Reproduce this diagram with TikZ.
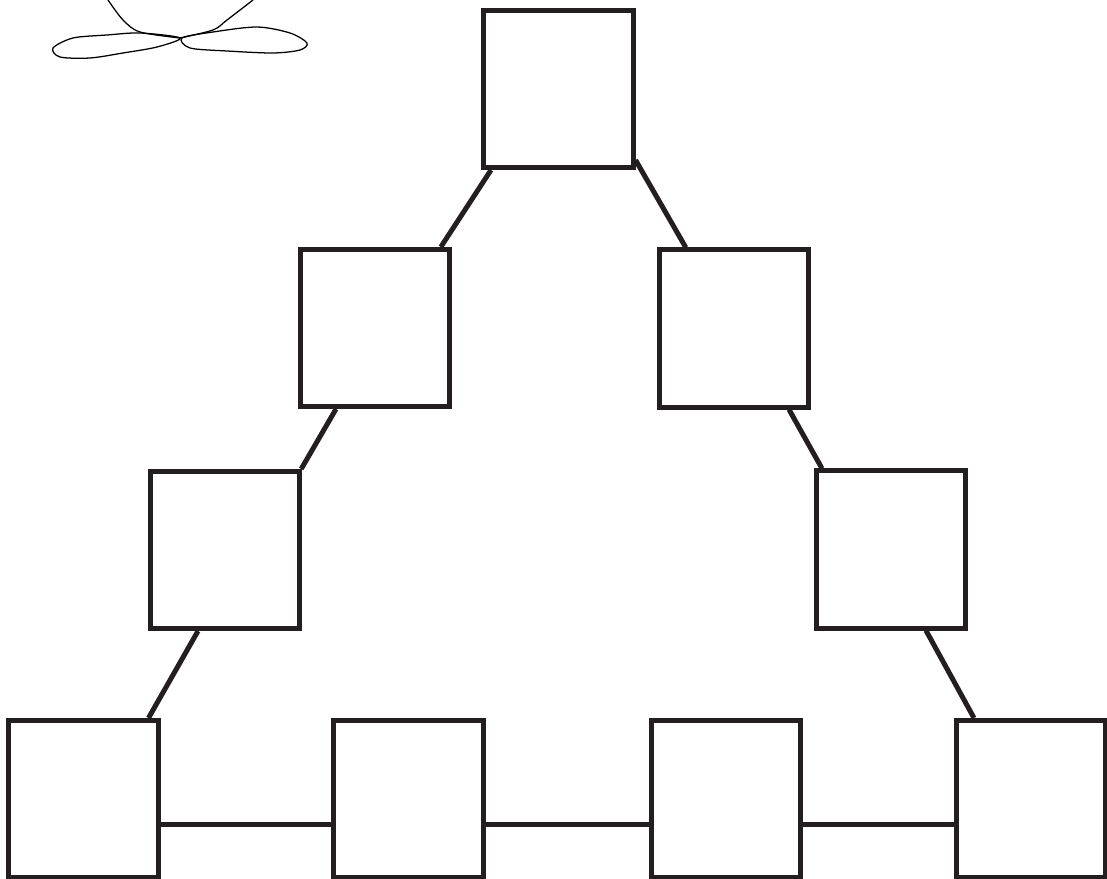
\documentclass[tikz,border=0pt]{standalone}
\usetikzlibrary{positioning, calc}

\definecolor{tinta}{RGB}{35,31,32}

\begin{document}
\begin{tikzpicture}[x=0.025cm, y=-0.025cm]
		
		% Parámetros geométricos de las cajas
		\def\Wcaja{3.725cm}   % Ancho de cada caja
		\def\Hcaja{3.925cm}   % Alto de cada caja
		\def\Grosor{0.125cm}  % Grosor de trazo
		
		\tikzset{
			caja/.style={draw=tinta, line width=\Grosor, minimum width=\Wcaja, minimum height=\Hcaja, inner sep=0pt, fill=white},
			enlace/.style={draw=tinta, line width=\Grosor},
			garabato/.style={line width=0.9pt}
		}
		
		% Marco fijo del dibujo
		\useasboundingbox (0,0) rectangle (1107,879);
		
		% --- 1. GARABATO SUPERIOR IZQUIERDO ---
		\draw[garabato] plot[smooth] coordinates {(108,0) (123,20) (140,32) (180,38)};
		\draw[garabato] plot[smooth] coordinates {(253,0) (227,20) (213,30) (180,38)};
		\draw[garabato] plot[smooth cycle] coordinates {(180,38) (140,33) (107,35) (73,38) (53,48) (60,57) (90,58) (123,53) (157,47)};
		\draw[garabato] plot[smooth cycle] coordinates {(182,38) (213,32) (257,27) (290,33) (307,43) (300,50) (273,53) (227,51) (190,48)};
		
		% --- 2. CAJAS DEL TRIÁNGULO ---
		\node[caja] (cima) at (558.5,89) {};
		\node[caja] (izq2) at (375,328) {};
		\node[caja] (der2) at (734,328.5) {};
		\node[caja] (izq3) at (225,550) {};
		\node[caja] (der3) at (891,549.5) {};
		\node[caja] (base1) at (83.5,799) {};
		\node[caja] (base2) at (408.5,799) {};
		\node[caja] (base3) at (726,799) {};
		\node[caja] (base4) at (1031,799) {};
		
		% --- 3. LADOS INCLINADOS ---
		\draw[enlace] ([xshift=3\pgflinewidth/2+0.05cm]cima.south west) -- ([xshift=-0.28cm]izq2.north east);
		\draw[enlace] ([yshift=0.25cm]cima.south east) -- ([xshift=0.72cm]der2.north west);
		\draw[enlace] ([xshift=0.95cm]izq2.south west) -- ([xshift=-0.02cm]izq3.north east);
		\draw[enlace] ([xshift=-0.55cm]der2.south east) -- ([xshift=0.2cm]der3.north west);
		\draw[enlace] ([xshift=1.25cm]izq3.south west) -- ([xshift=-0.3cm]base1.north east);
		\draw[enlace] ([xshift=-1.05cm]der3.south east) -- ([xshift=0.5cm]base4.north west);
		
		% --- 4. BASE HORIZONTAL ---
		\draw[enlace] ([yshift=-0.63cm]base1.east) -- ([yshift=-0.63cm]base2.west);
		\draw[enlace] ([yshift=-0.63cm]base2.east) -- ([yshift=-0.63cm]base3.west);
		\draw[enlace] ([yshift=-0.63cm]base3.east) -- ([yshift=-0.63cm]base4.west);
		
	\end{tikzpicture}
\end{document}
